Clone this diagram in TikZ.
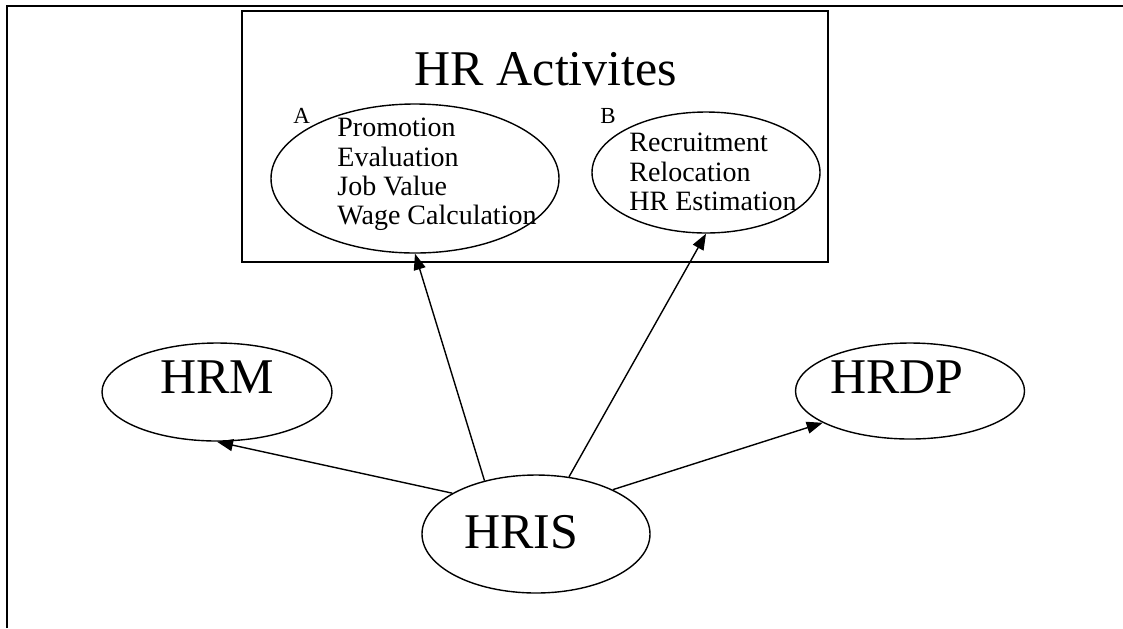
\documentclass[tikz,border=0pt]{standalone}
\usepackage{fontspec}
\setmainfont{Liberation Serif}
\usetikzlibrary{shapes.geometric,arrows.meta,positioning}

\begin{document}
\begin{tikzpicture}[x=0.5pt,y=-0.5pt,
	oval/.style={draw,ellipse,line width=0.7pt,inner sep=0pt},
	bigtext/.style={font=\fontsize{25}{30}\selectfont,inner sep=0pt,anchor=base},
	listtext/.style={font=\fontsize{14}{14.6}\selectfont,inner sep=0pt,align=left,anchor=north west},
	tagtext/.style={font=\fontsize{11.5}{13}\selectfont,inner sep=0pt,anchor=base west},
	link/.style={-{Triangle[length=8pt,width=6pt]},line width=0.7pt}]
	\useasboundingbox (0,0) rectangle (1123,628);
	% page frame
	\draw[line width=1.4pt] (7,628) -- (7,6) -- (1123,6);
	% activities box
	\node[draw,line width=0.7pt,minimum width=293pt,minimum height=125.5pt] (act) at (535,136.5) {};
	\node[bigtext] (acttitle) at (546,85) {HR Activites};
	\node[oval,minimum width=144pt,minimum height=74.5pt] (grpA) at (415,178.5) {};
	\node[oval,minimum width=114pt,minimum height=60.5pt] (grpB) at (706,172.5) {};
	\node[tagtext] (tagA) at (293,123) {A};
	\node[tagtext] (tagB) at (600,123) {B};
	\node[listtext] (listA) at (337,118) {Promotion\\Evaluation\\Job Value\\Wage Calculation};
	\node[listtext] (listB) at (629,133) {Recruitment\\Relocation\\HR Estimation};
	% outer ovals
	\node[oval,minimum width=115pt,minimum height=49pt] (hrm) at (217,392) {};
	\node[oval,minimum width=114.5pt,minimum height=48pt] (hrdp) at (910,391) {};
	\node[oval,minimum width=114pt,minimum height=59pt] (hris) at (536,534) {};
	\node[bigtext] (hrmtext) at (217,393) {HRM};
	\node[bigtext] (hrdptext) at (897,393) {HRDP};
	\node[bigtext] (hristext) at (521,548) {HRIS};
	% links
	\draw[link] (hris.154) -- (hrm.south);
	\draw[link] (hris.134) -- (grpA.south);
	\draw[link] (hris.60) -- (grpB.south);
	\draw[link] (hris.30) -- (hrdp.200);
\end{tikzpicture}
\end{document}
